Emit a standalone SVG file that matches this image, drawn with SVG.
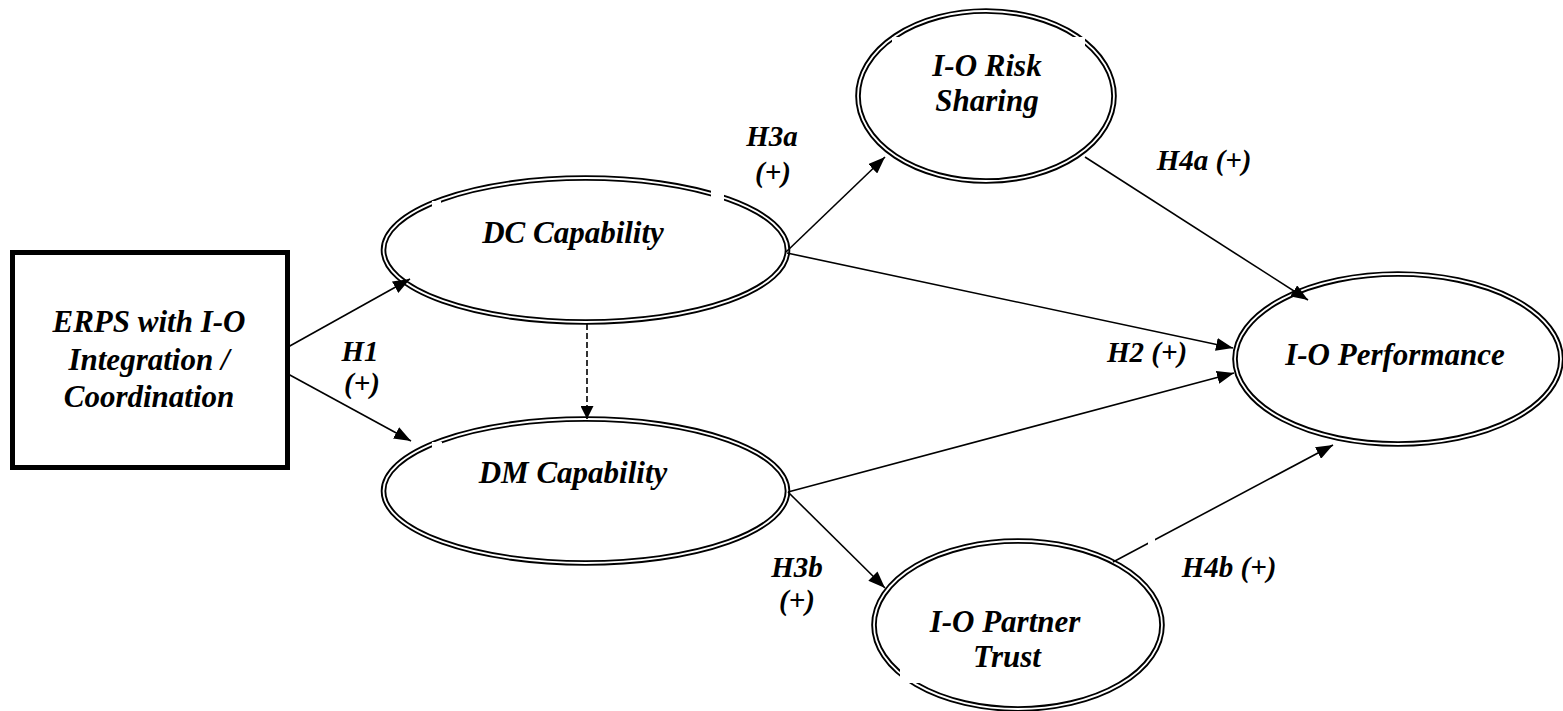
<svg xmlns="http://www.w3.org/2000/svg" width="1563" height="711" viewBox="0 0 1563 711">
<style>
.t{font-family:"Liberation Serif","Times New Roman",serif;font-weight:bold;font-style:italic;fill:#000;text-anchor:middle}
.n{font-size:31px}
.l{font-size:29px}
.eo{fill:#fff;stroke:#000;stroke-width:5.6}
.ei{fill:none;stroke:#fff;stroke-width:1.8}
.c{fill:none;stroke:#000;stroke-width:1.6}
.d{stroke-dasharray:6 3}
.w{fill:#fff;stroke:none}
</style>
<defs>
<marker id="ah" markerUnits="userSpaceOnUse" markerWidth="17" markerHeight="13" refX="17" refY="6.5" orient="auto" viewBox="0 0 17 13">
<path d="M0,0 L17,6.5 L0,13 Z" fill="#000"/>
</marker>
<marker id="ahs" markerUnits="userSpaceOnUse" markerWidth="13" markerHeight="13" refX="13" refY="6.5" orient="auto" viewBox="0 0 13 13">
<path d="M0,0 L13,6.5 L0,13 Z" fill="#000"/>
</marker>
</defs>
<rect width="1563" height="711" fill="#fff"/>

<g id="erps">
<rect x="12.5" y="252.5" width="275" height="215" fill="#fff" stroke="#000" stroke-width="5"/>
<text class="t n" x="149" y="332">ERPS with I-O</text>
<text class="t n" x="149" y="370">Integration /</text>
<text class="t n" x="149" y="407">Coordination</text>
</g>

<g id="dc">
<ellipse class="eo" cx="585.5" cy="250" rx="202" ry="72"/>
<ellipse class="ei" cx="585.5" cy="250" rx="202" ry="72"/>
<rect class="w" x="711" y="186" width="13" height="26"/>
<rect class="w" x="432" y="201" width="9" height="8"/>
<text class="t n" x="573" y="243">DC Capability</text>
</g>

<g id="dm">
<ellipse class="eo" cx="585.5" cy="491" rx="202" ry="72"/>
<ellipse class="ei" cx="585.5" cy="491" rx="202" ry="72"/>
<rect class="w" x="432" y="442" width="10" height="8"/>
<text class="t n" x="573" y="483">DM Capability</text>
</g>

<g id="risk">
<ellipse class="eo" cx="986" cy="96" rx="128" ry="85"/>
<ellipse class="ei" cx="986" cy="96" rx="128" ry="85"/>
<rect class="w" x="892" y="37" width="193" height="100"/>
<text class="t n" x="987" y="76">I-O Risk</text>
<text class="t n" x="987" y="111">Sharing</text>
</g>

<g id="trust">
<ellipse class="eo" cx="1018" cy="625" rx="144" ry="84"/>
<ellipse class="ei" cx="1018" cy="625" rx="144" ry="84"/>
<rect class="w" x="900" y="600" width="205" height="83"/>
<text class="t n" x="1005" y="632">I-O Partner</text>
<text class="t n" x="1007" y="667">Trust</text>
</g>

<g id="perf">
<ellipse class="eo" cx="1398" cy="359" rx="163" ry="85"/>
<ellipse class="ei" cx="1398" cy="359" rx="163" ry="85"/>
<text class="t n" x="1395" y="365">I-O Performance</text>
</g>

<g id="connectors">
<line class="c" x1="288" y1="347" x2="410" y2="279" marker-end="url(#ah)"/>
<line class="c" x1="288" y1="374" x2="411" y2="441" marker-end="url(#ah)"/>
<line class="c d" x1="587" y1="324" x2="587" y2="419" marker-end="url(#ahs)"/>
<line class="c" x1="786" y1="252" x2="885" y2="157" marker-end="url(#ah)"/>
<line class="c" x1="787" y1="253" x2="1233" y2="348" marker-end="url(#ah)"/>
<line class="c" x1="788" y1="492" x2="1234" y2="373" marker-end="url(#ah)"/>
<line class="c" x1="788" y1="492" x2="885" y2="588" marker-end="url(#ah)"/>
<line class="c" x1="1085" y1="157" x2="1308" y2="300" marker-end="url(#ah)"/>
<line class="c" x1="1113" y1="562" x2="1333" y2="445" marker-end="url(#ah)"/>
<rect class="w" x="1148" y="535" width="7" height="13"/>
</g>

<g id="labels">
<text class="t l" x="772" y="146">H3a</text>
<text class="t l" x="773" y="182">(+)</text>
<text class="t l" x="360" y="361">H1</text>
<text class="t l" x="362" y="393">(+)</text>
<text class="t l" x="1147" y="362">H2 (+)</text>
<text class="t l" x="797" y="577">H3b</text>
<text class="t l" x="797" y="610">(+)</text>
<text class="t l" x="1204" y="170">H4a (+)</text>
<text class="t l" x="1229" y="577">H4b (+)</text>
</g>
</svg>
